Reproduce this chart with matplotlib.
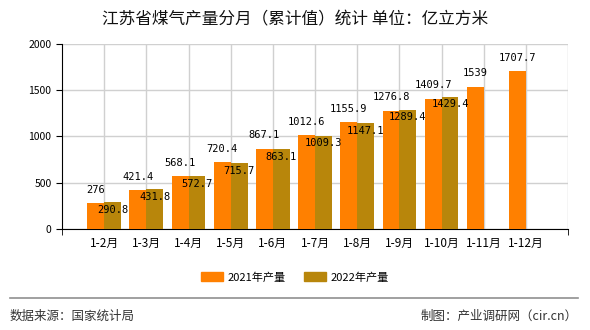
import matplotlib
matplotlib.use("Agg")
import matplotlib.pyplot as plt
from matplotlib.patches import Patch
from matplotlib.lines import Line2D
import numpy as np

plt.rcParams['font.family'] = ['Noto Sans CJK SC', 'DejaVu Sans']

categories = ["1-2月", "1-3月", "1-4月", "1-5月", "1-6月", "1-7月", "1-8月", "1-9月", "1-10月", "1-11月", "1-12月"]
values_2021 = [276, 421.4, 568.1, 720.4, 867.1, 1012.6, 1155.9, 1276.8, 1409.7, 1539, 1707.7]
values_2022 = [290.8, 431.8, 572.7, 715.7, 863.1, 1009.3, 1147.1, 1289.4, 1429.4]
labels_2021 = ["276", "421.4", "568.1", "720.4", "867.1", "1012.6", "1155.9", "1276.8", "1409.7", "1539", "1707.7"]
labels_2022 = ["290.8", "431.8", "572.7", "715.7", "863.1", "1009.3", "1147.1", "1289.4", "1429.4"]
series_names = ["2021年产量", "2022年产量"]
yticks = [0, 500, 1000, 1500, 2000]
title = "江苏省煤气产量分月（累计值）统计 单位：亿立方米"
source = "数据来源：国家统计局"
maker = "制图：产业调研网（cir.cn）"

c2021 = "#FF8000"
c2022 = "#B8860B"

fig = plt.figure(figsize=(5.9, 3.3), dpi=100)
ax = fig.add_axes([0.105, 0.306, 0.858, 0.561])

x = np.arange(len(categories))
w = 0.4
ax.bar(x[:len(values_2021)] - w / 2, values_2021, width=w, color=c2021, zorder=3)
ax.bar(x[:len(values_2022)] + w / 2, values_2022, width=w, color=c2022, zorder=3)

mono = ['DejaVu Sans Mono', 'Noto Sans CJK SC']
for i, (v, t) in enumerate(zip(values_2021, labels_2021)):
    ax.annotate(t, (x[i] - w / 2, v), xytext=(0, 6), textcoords='offset points',
                ha='center', va='bottom', fontsize=7.5, family=mono, zorder=5)
for i, (v, t) in enumerate(zip(values_2022, labels_2022)):
    ax.annotate(t, (x[i] + w / 2, v), xytext=(0, -2), textcoords='offset points',
                ha='center', va='top', fontsize=7.5, family=mono, zorder=5)

ax.set_xlim(-1, len(categories))
ax.set_ylim(0, 2000)
ax.set_yticks(yticks)
ax.set_yticklabels([str(t) for t in yticks], fontsize=7.5)
ax.set_xticks(x)
ax.set_xticklabels(categories, fontsize=8.5)
ax.set_xticks(np.arange(-1, len(categories) + 1), minor=True)
ax.tick_params(axis='x', which='major', length=0, pad=6)
ax.tick_params(axis='x', which='minor', length=4)
ax.tick_params(axis='y', length=4)

ax.grid(True, axis='y', color='#d0d0d0', linewidth=1, zorder=0)
for xi in list(x) + [len(categories)]:
    ax.axvline(xi, color='#d0d0d0', linewidth=1, zorder=0)

for s in ['top', 'right']:
    ax.spines[s].set_visible(False)
ax.spines['left'].set_color('black')
ax.spines['bottom'].set_color('black')

fig.text(0.5, 0.94, title, ha='center', va='center', fontsize=12, color='#111111')

handles = [Patch(color=c2021), Patch(color=c2022)]
fig.legend(handles, series_names, loc='center', bbox_to_anchor=(0.5, 0.16), ncol=2,
           frameon=False, fontsize=8, handlelength=2.0, handleheight=0.8, columnspacing=1.6,
           handletextpad=0.4)

fig.add_artist(Line2D([10 / 590, 578 / 590], [1 - 298 / 330] * 2, color='#909090', linewidth=1.2,
                      transform=fig.transFigure))
fig.text(10 / 590, 1 - 316 / 330, source, ha='left', va='center', fontsize=9, color='#333333')
fig.text(578 / 590, 1 - 316 / 330, maker, ha='right', va='center', fontsize=9, color='#333333')

fig.savefig("out.png", dpi=100)
